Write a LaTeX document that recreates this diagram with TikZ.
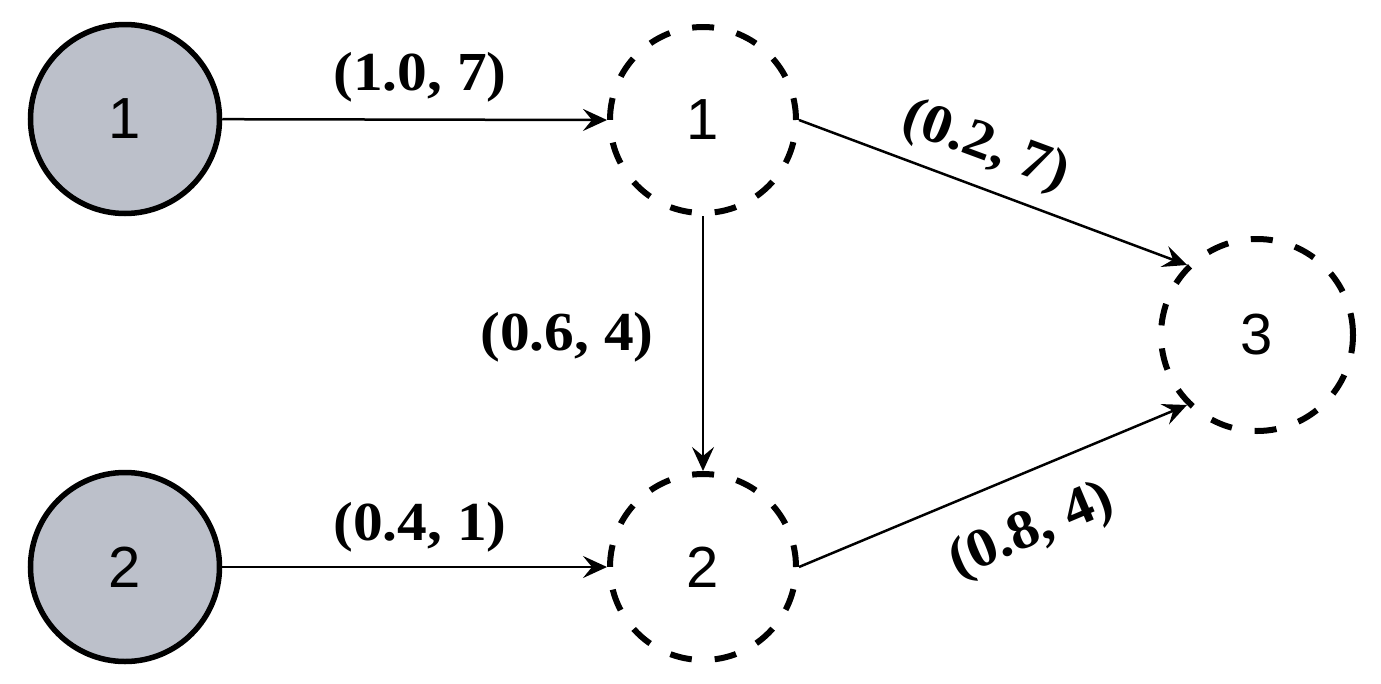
\documentclass[tikz,border=0pt]{standalone}
\usepackage{fontspec}
\setmainfont{Liberation Serif}
\newfontfamily\arialfont{Liberation Sans}
\usetikzlibrary{arrows.meta}
\definecolor{nodegray}{RGB}{188,192,202}
\newcommand{\lbltext}[1]{\scalebox{1.08}[1]{#1}}
\begin{document}
\begin{tikzpicture}[x=1pt,y=-1pt,
  srcnode/.style={circle, draw=black, line width=5.5pt, fill=nodegray,
    minimum size=189pt, inner sep=0pt, font=\arialfont\fontsize{58}{60}\selectfont},
  dstnode/.style={circle, draw=black, line width=6pt, dash pattern=on 22pt off 23pt,
    minimum size=186pt, inner sep=0pt, font=\arialfont\fontsize{58}{60}\selectfont},
  conn/.style={line width=2.5pt, -{Stealth[length=24pt,width=22pt,inset=9pt]}},
  lbl/.style={font=\bfseries\fontsize{55}{60}\selectfont, inner sep=0pt}]
\useasboundingbox (0,0) rectangle (1381,683);
% nodes
\node[srcnode] (s1) at (125,119) {1};
\node[srcnode] (s2) at (125,567) {2};
\node[dstnode] (d1) at (703,120) {1};
\node[dstnode] (d2) at (703,567) {2};
\node[dstnode, minimum size=192pt] (d3) at (1257,335) {3};
% connectors
\draw[conn] (s1) -- (d1.west);
\draw[conn] (s2) -- (d2.west);
\draw[conn] (d1.south) -- (d2.north);
\draw[conn] (d1.east) -- (d3.north west);
\draw[conn] (d2.east) -- (d3.south west);
% labels
\node[lbl] (l1) at (420,77) {\lbltext{(1.0, 7)}};
\node[lbl] (l2) at (420,527) {\lbltext{(0.4, 1)}};
\node[lbl] (l3) at (567,337) {\lbltext{(0.6, 4)}};
\node[lbl, rotate=-20.3] (l4) at (985,147) {\lbltext{(0.2, 7)}};
\node[lbl, rotate=22.9] (l5) at (1032,532) {\lbltext{(0.8, 4)}};
\end{tikzpicture}
\end{document}
